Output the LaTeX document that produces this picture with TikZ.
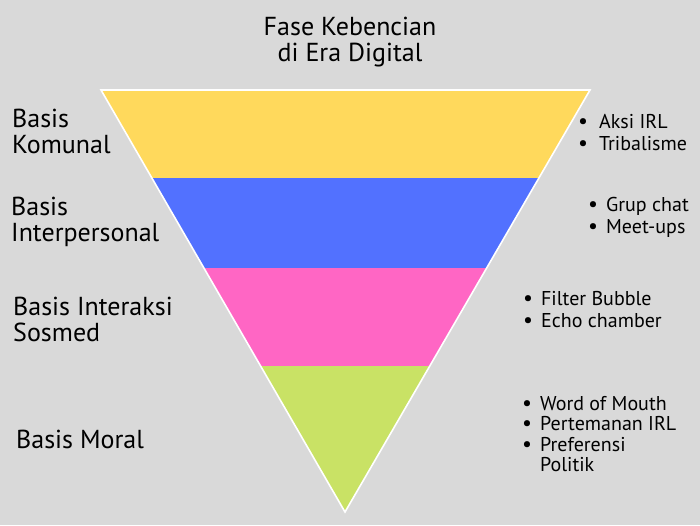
\documentclass[tikz,border=0pt]{standalone}
\usepackage{fontspec}
\setmainfont{PT Sans}
\usepackage{tikz}
\usetikzlibrary{positioning}
\definecolor{bg}{HTML}{D9D9D9}
\definecolor{bandyellow}{HTML}{FFD95C}
\definecolor{bandblue}{HTML}{5271FF}
\definecolor{bandpink}{HTML}{FF66C4}
\definecolor{bandgreen}{HTML}{C9E265}
\newcommand{\bul}{{\fontsize{22}{19}\selectfont\textbullet}}

\begin{document}
\begin{tikzpicture}[x=1pt,y=-1pt,
  basis/.style={anchor=west,align=left,inner sep=0pt,font=\fontsize{26}{26}\selectfont},
  items/.style={anchor=west,inner sep=0pt,font=\fontsize{20}{22}\selectfont}]
% background
\fill[bg] (0,0) rectangle (700,525);
\useasboundingbox (0,0) rectangle (700,525);
% title
\node[align=center,inner sep=0pt,font=\fontsize{26}{26}\selectfont] (title) at (350,42) {Fase Kebencian\\ di Era Digital};
% funnel
\coordinate (tl) at (101,90);
\coordinate (tr) at (590,90);
\coordinate (tip) at (345,512);
\begin{scope}
\clip (tl) -- (tr) -- (tip) -- cycle;
\fill[bandyellow] (90,85) rectangle (600,178);
\fill[bandblue] (90,178) rectangle (600,268);
\fill[bandpink] (90,268) rectangle (600,366);
\fill[bandgreen] (90,366) rectangle (600,520);
\end{scope}
\draw[white,line width=1.6pt] (tl) -- (tr) -- (tip) -- cycle;
% left labels
\node[basis] (komunal) at (12,131) {Basis\\ Komunal};
\node[basis] (interpersonal) at (11,222) {Basis\\ Interpersonal};
\node[basis] (sosmed) at (13,319) {Basis Interaksi\\ Sosmed};
\node[basis] (moral) at (16,439) {Basis Moral};
% right items
\node[items] (itemkomunal) at (578,135) {\begin{tabular}{@{}l@{\hspace{11pt}}l@{}}\bul & Aksi IRL\\ \bul & Tribalisme\end{tabular}};
\node[items] (iteminterpersonal) at (588,218) {\begin{tabular}{@{}l@{\hspace{8pt}}l@{}}\bul & Grup chat\\ \bul & Meet-ups\end{tabular}};
\node[items] (itemsosmed) at (523,312) {\begin{tabular}{@{}l@{\hspace{8pt}}l@{}}\bul & Filter Bubble\\ \bul & Echo chamber\end{tabular}};
\node[items,font=\fontsize{20}{20}\selectfont] (itemmoral) at (522,437) {\begin{tabular}{@{}l@{\hspace{8pt}}l@{}}\bul & Word of Mouth\\ \bul & Pertemanan IRL\\ \bul & Preferensi\\ & Politik\end{tabular}};
\end{tikzpicture}
\end{document}
